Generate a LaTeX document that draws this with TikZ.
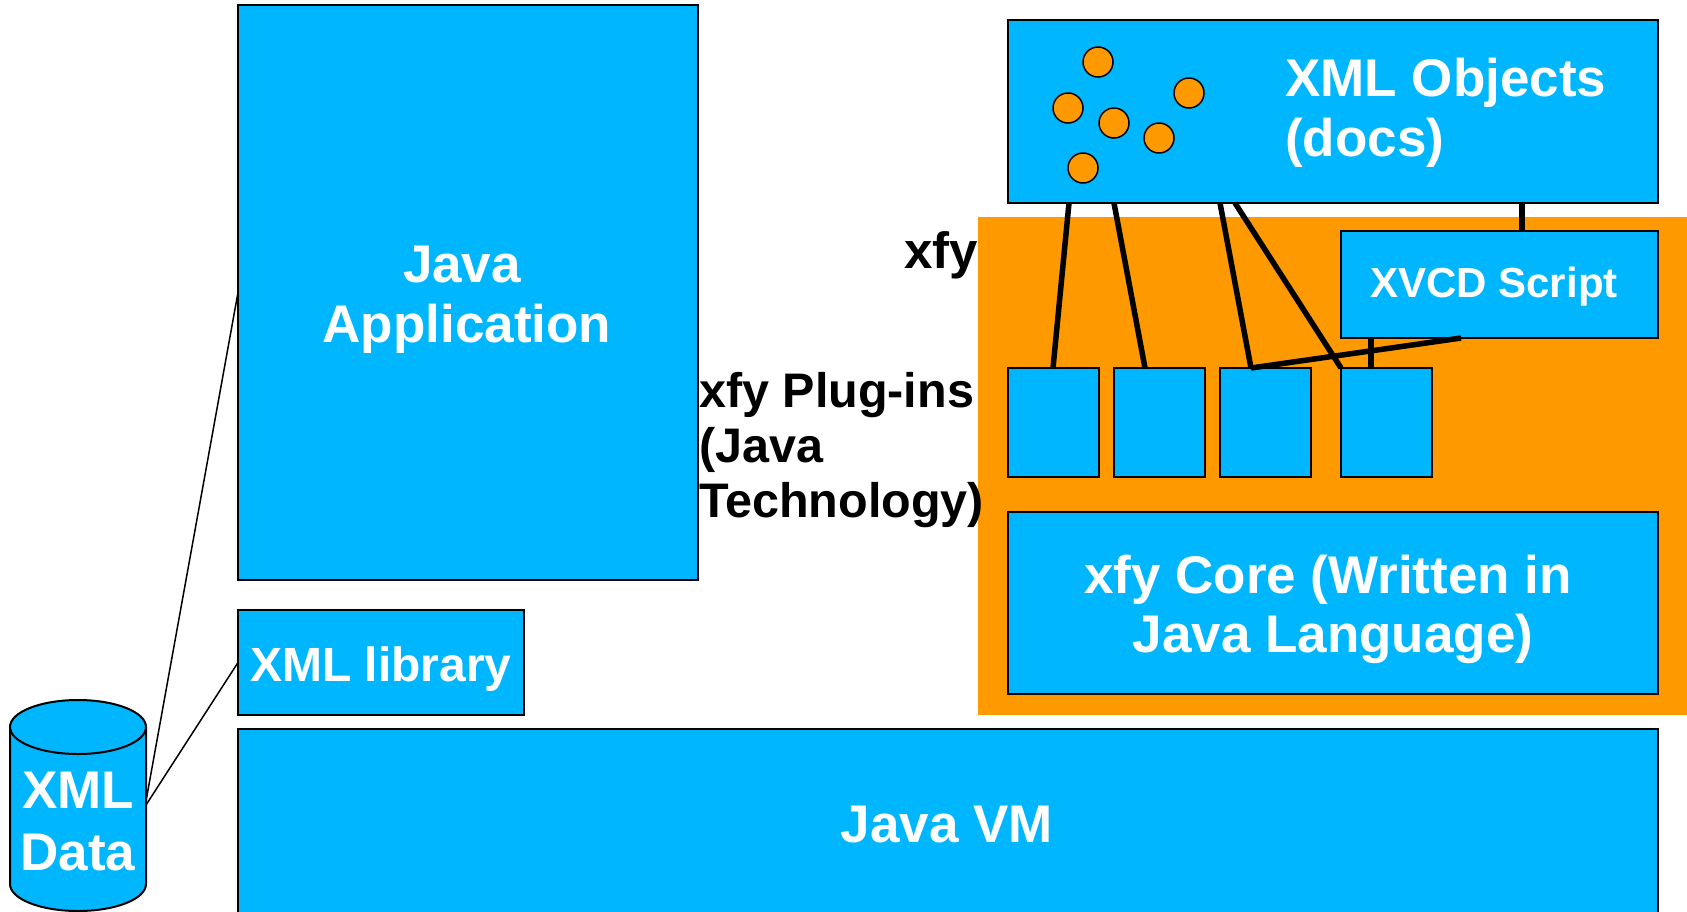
\documentclass[tikz,border=0pt]{standalone}
\usepackage{fontspec}
\setmainfont{Liberation Sans}
\usetikzlibrary{calc}
\definecolor{xblue}{RGB}{0,183,255}
\definecolor{xorange}{RGB}{255,153,0}
\begin{document}
\begin{tikzpicture}[x=1pt,y=-1pt,
 box/.style={draw=black,line width=2pt,fill=xblue,inner sep=0pt,outer sep=0pt},
 wt/.style={text=white,font=\bfseries\fontsize{53}{61}\selectfont,anchor=base,inner sep=0pt},
 wtl/.style={wt,anchor=base west},
 bt/.style={text=black,font=\bfseries\fontsize{48.5}{55}\selectfont,anchor=base west,inner sep=0pt},
 link/.style={line width=5.5pt},
 thinlink/.style={line width=1.5pt},
 doc/.style={circle,draw=black,line width=1.5pt,fill=xorange,minimum size=30pt,inner sep=0pt}]
\useasboundingbox (0,0) rectangle (1687,911);
% xfy zone
\fill[xorange] (978,217) rectangle (1700,715);
% boxes
\node[box,minimum width=460pt,minimum height=575pt] (app) at (468,292.5) {};
\node[box,minimum width=286pt,minimum height=105pt] (lib) at (381,662.5) {};
\node[box,minimum width=1420pt,minimum height=190pt] (vm) at (948,824) {};
\node[box,minimum width=650pt,minimum height=183pt] (objs) at (1333,111.5) {};
\node[box,minimum width=317pt,minimum height=107pt] (xvcd) at (1499.5,284.5) {};
\node[box,minimum width=91pt,minimum height=109pt] (p1) at (1053.5,422.5) {};
\node[box,minimum width=91pt,minimum height=109pt] (p2) at (1159.5,422.5) {};
\node[box,minimum width=91pt,minimum height=109pt] (p3) at (1265.5,422.5) {};
\node[box,minimum width=91pt,minimum height=109pt] (p4) at (1386.5,422.5) {};
\node[box,minimum width=650pt,minimum height=182pt] (core) at (1333,603) {};
% cylinder
\filldraw[fill=xblue,line width=2pt] (10,727) -- (10,884) arc[start angle=180,end angle=360,x radius=68pt,y radius=27pt] -- (146,727);
\filldraw[fill=xblue,line width=2pt] (78,727) ellipse[x radius=68pt,y radius=27pt];
\coordinate (dataA) at (146,801);
\coordinate (dataB) at (146,805);
% docs
\node[doc] (d1) at (1098,62) {};
\node[doc] (d2) at (1068,108) {};
\node[doc] (d3) at (1114,123) {};
\node[doc] (d4) at (1189,93) {};
\node[doc] (d5) at (1159,138) {};
\node[doc] (d6) at (1083,168) {};
% connectors
\draw[thinlink] (dataA) -- (app.west);
\draw[thinlink] (dataB) -- (lib.west);
\draw[link] ($(objs.south west)+(61,0)$) -- ($(p1.north west)+(45,0)$);
\draw[link] ($(objs.south west)+(106,0)$) -- ($(p2.north west)+(31,0)$);
\draw[link] ($(objs.south west)+(212,0)$) -- ($(p3.north west)+(31,0)$);
\draw[link] ($(objs.south west)+(227,0)$) -- (p4.north west);
\draw[link] ($(xvcd.south west)+(120,0)$) -- ($(p3.north west)+(31,0)$);
\draw[link] ($(xvcd.south west)+(30,0)$) -- ($(p4.north west)+(30,0)$);
\draw[link] ($(objs.south west)+(514,0)$) -- ($(xvcd.north west)+(181,0)$);
% white texts
\node[wt] (t1) at (462,282) {Java};
\node[wt] (t2) at (467,342) {Application};
\node[wtl] (t3) at (1285,96) {XML Objects};
\node[wtl] (t4) at (1285,156) {(docs)};
\node[wt,font=\bfseries\fontsize{42}{48}\selectfont] (t5) at (1494,297) {XVCD Script};
\node[wt] (t6) at (1328,593) {xfy Core (Written in};
\node[wt] (t7) at (1333,652) {Java Language)};
\node[wt,font=\bfseries\fontsize{48}{55}\selectfont] (t8) at (381,681) {XML library};
\node[wt] (t9) at (947,842) {Java VM};
\node[wt] (t10) at (78,808) {XML};
\node[wt] (t11) at (78,870) {Data};
% black texts
\node[bt,anchor=base east,font=\bfseries\fontsize{51}{55}\selectfont] (b1) at (978,268) {xfy};
\node[bt] (b2) at (699,407) {xfy Plug-ins};
\node[bt] (b3) at (699,462) {(Java};
\node[bt] (b4) at (699,517) {Technology)};
\end{tikzpicture}
\end{document}
